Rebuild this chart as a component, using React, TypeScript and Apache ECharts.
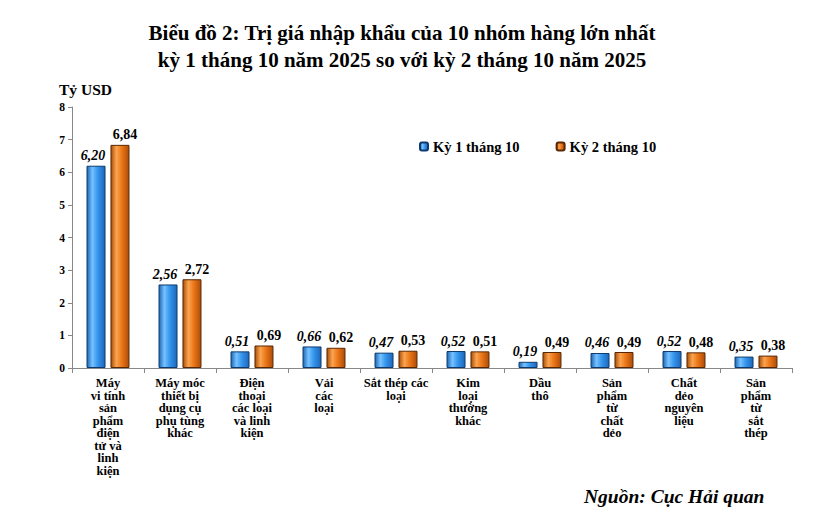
import React, { useEffect, useRef } from "react";
import * as echarts from "echarts";

const categories = [
  "Máy\nvi tính\nsản\nphẩm\nđiện\ntử và\nlinh\nkiện",
  "Máy móc\nthiết bị\ndụng cụ\nphụ tùng\nkhác",
  "Điện\nthoại\ncác loại\nvà linh\nkiện",
  "Vải\ncác\nloại",
  "Sắt thép các\nloại",
  "Kim\nloại\nthường\nkhác",
  "Dầu\nthô",
  "Sản\nphẩm\ntừ\nchất\ndẻo",
  "Chất\ndẻo\nnguyên\nliệu",
  "Sản\nphẩm\ntừ\nsắt\nthép",
];
const ky1 = [6.2, 2.56, 0.51, 0.66, 0.47, 0.52, 0.19, 0.46, 0.52, 0.35];
const ky2 = [6.84, 2.72, 0.69, 0.62, 0.53, 0.51, 0.49, 0.49, 0.48, 0.38];
const seriesNames = ["Kỳ 1 tháng 10", "Kỳ 2 tháng 10"];

const FONT = "'Liberation Serif', 'Times New Roman', serif";

const grad = (dark: string, mid: string, light: string) =>
  new echarts.graphic.LinearGradient(0, 0, 1, 0, [
    { offset: 0, color: dark },
    { offset: 0.3, color: light },
    { offset: 0.6, color: mid },
    { offset: 1, color: dark },
  ]);

const fmt = (p: any) => Number(p.value).toFixed(2).replace(".", ",");

export default function App() {
  const ref = useRef<HTMLDivElement>(null);
  useEffect(() => {
    document.body.style.margin = "0";
    const chart = echarts.init(ref.current!, null, { renderer: "svg" });
    chart.setOption({
      animation: false,
      backgroundColor: "#ffffff",
      title: [
        {
          text: "Biểu đồ 2: Trị giá nhập khẩu của 10 nhóm hàng lớn nhất\nkỳ 1 tháng 10 năm 2025 so với kỳ 2 tháng 10 năm 2025",
          left: 402,
          top: 19,
          padding: 0,
          textAlign: "center",
          textStyle: { fontFamily: FONT, fontWeight: "bold", fontSize: 21, lineHeight: 27, color: "#000" },
        },
        {
          text: "Tỷ USD",
          left: 59,
          top: 81,
          padding: 0,
          textStyle: { fontFamily: FONT, fontWeight: "bold", fontSize: 15.5, color: "#000" },
        },
        {
          text: "Nguồn: Cục Hải quan",
          left: 584,
          top: 486,
          padding: 0,
          textStyle: { fontFamily: FONT, fontWeight: "bold", fontStyle: "italic", fontSize: 19.5, color: "#000" },
        },
      ],
      legend: {
        left: 414,
        top: 134,
        itemWidth: 8,
        itemHeight: 8,
        itemGap: 36,
        data: seriesNames,
        textStyle: { fontFamily: FONT, fontWeight: "bold", fontSize: 14.5, color: "#000" },
      },
      grid: { left: 72, right: 27, top: 107, bottom: 157 },
      xAxis: {
        type: "category",
        data: categories,
        axisLine: { lineStyle: { color: "#888" } },
        axisTick: { show: true, lineStyle: { color: "#888" }, length: 5 },
        axisLabel: {
          interval: 0,
          fontFamily: FONT,
          fontWeight: "bold",
          fontSize: 12.5,
          lineHeight: 12.5,
          color: "#000",
          margin: 9,
        },
      },
      yAxis: {
        type: "value",
        min: 0,
        max: 8,
        interval: 1,
        splitLine: { show: false },
        axisLine: { show: true, lineStyle: { color: "#888" } },
        axisTick: { show: true, lineStyle: { color: "#888" }, length: 4 },
        axisLabel: { fontFamily: FONT, fontWeight: "bold", fontSize: 11.5, color: "#000", margin: 7 },
      },
      series: [
        {
          name: seriesNames[0],
          type: "bar",
          data: ky1,
          barWidth: 19,
          barGap: "26%",
          itemStyle: {
            color: grad("#1f66b8", "#3394ec", "#76c2ff"),
            borderColor: "#0d3a6e",
            borderWidth: 1,
          },
          label: {
            show: true,
            position: "top",
            distance: 3,
            offset: [-3, 0],
            formatter: fmt,
            fontFamily: FONT,
            fontWeight: "bold",
            fontStyle: "italic",
            fontSize: 14,
            color: "#000",
          },
        },
        {
          name: seriesNames[1],
          type: "bar",
          data: ky2,
          barWidth: 19,
          itemStyle: {
            color: grad("#ad4d08", "#ec7618", "#f9a550"),
            borderColor: "#5a2704",
            borderWidth: 1,
          },
          label: {
            show: true,
            position: "top",
            distance: 3,
            offset: [5, 0],
            formatter: fmt,
            fontFamily: FONT,
            fontWeight: "bold",
            fontSize: 14,
            color: "#000",
          },
        },
      ],
    });
    return () => chart.dispose();
  }, []);
  return <div ref={ref} style={{ width: 819, height: 525 }} />;
}
